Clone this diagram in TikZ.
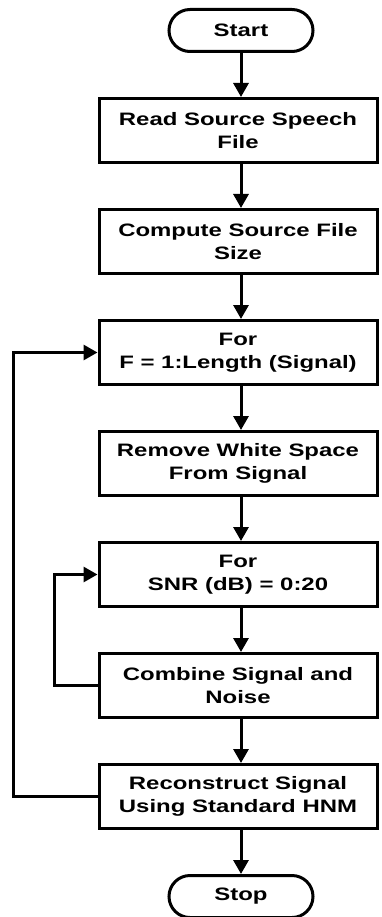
\documentclass[tikz,border=0pt]{standalone}
\usepackage{fontspec}
\setmainfont{Liberation Sans}[FakeStretch=1.33]
\usetikzlibrary{positioning,arrows.meta}

\tikzset{
  procbox/.style={draw,line width=3pt,minimum width=278pt,minimum height=64pt,align=center,inner sep=2pt},
  termbox/.style={draw,line width=3pt,rounded corners=21pt,minimum width=144pt,minimum height=42pt},
  flow/.style={-{Triangle[length=14pt,width=15pt]},line width=3pt}
}

\begin{document}
\begin{tikzpicture}[node distance=44pt,font=\fontsize{18}{23}\selectfont\bfseries]
  \useasboundingbox (0,0) rectangle (381pt,-917pt);
  % main column of steps
  \node[procbox] (read) at (238pt,-130.5pt) {Read Source Speech\\File};
  \node[termbox,above=of read,xshift=3pt] (start) {Start};
  \node[procbox,below=of read] (size) {Compute Source File\\Size};
  \node[procbox,below=of size] (forf) {For\\F = 1:Length (Signal)};
  \node[procbox,below=of forf] (remove) {Remove White Space\\From Signal};
  \node[procbox,below=of remove] (forsnr) {For\\SNR (dB) = 0:20};
  \node[procbox,below=of forsnr] (combine) {Combine Signal and\\Noise};
  \node[procbox,below=of combine] (recon) {Reconstruct Signal\\Using Standard HNM};
  \node[termbox,below=of recon,xshift=3pt] (stop) {Stop};
  % straight flow
  \draw[flow] (start) -- (start |- read.north);
  \draw[flow] (start |- read.south) -- (start |- size.north);
  \draw[flow] (start |- size.south) -- (start |- forf.north);
  \draw[flow] (start |- forf.south) -- (start |- remove.north);
  \draw[flow] (start |- remove.south) -- (start |- forsnr.north);
  \draw[flow] (start |- forsnr.south) -- (start |- combine.north);
  \draw[flow] (start |- combine.south) -- (start |- recon.north);
  \draw[flow] (start |- recon.south) -- (stop);
  % loops back
  \draw[flow] (combine.west) -- ++(-43pt,0) |- (forsnr.west);
  \draw[flow] (recon.west) -- ++(-84pt,0) |- (forf.west);
\end{tikzpicture}
\end{document}
